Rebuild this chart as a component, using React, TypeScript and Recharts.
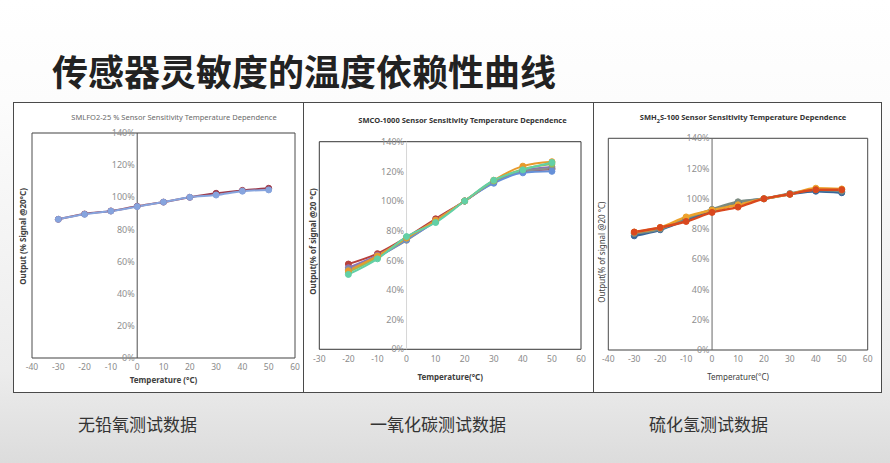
import React from "react"
import {
  CartesianGrid,
  Line,
  LineChart,
  ReferenceArea,
  ReferenceDot,
  ReferenceLine,
  XAxis,
  YAxis,
} from "recharts"

// temperatures (°C)
const o2Temps = [-30, -20, -10, 0, 10, 20, 30, 40, 50]
const coTemps = [-20, -10, 0, 10, 20, 30, 40, 50]
const h2sTemps = [-30, -20, -10, 0, 10, 20, 30, 40, 50]

// output, % of signal @20°C
const o2Red = [86.3, 89.6, 91.5, 94.4, 97, 100, 102.5, 104.3, 105.6]
const o2Blue = [86.3, 89.4, 91.4, 94.2, 97, 100, 101.4, 103.8, 104.6]

const coRed = [57.5, 64.5, 75.5, 88, 100, 113, 120, 121.5]
const coPurple = [55, 63.5, 74.5, 87, 100, 113, 120.5, 123]
const coGray = [54, 62.5, 73.5, 86.5, 100, 112.5, 120, 122]
const coBlue = [53.5, 62, 74, 86, 100, 112, 119, 120]
const coGreen = [52, 62, 75, 86.5, 100, 113.5, 121.5, 125]
const coOrange = [53, 63, 75, 87, 100, 114, 123.5, 126.5]
const coMint = [50.5, 61, 76, 85.5, 100, 114, 121, 126]

const h2sBlue = [75.5, 79.5, 86, 92, 97.5, 100, 103, 105, 104]
const h2sGray = [77, 80, 87, 93, 98, 100, 103.5, 106, 105]
const h2sOrange = [78, 81, 88, 92.5, 96, 100, 103, 107, 106.5]
const h2sRed = [78, 81, 85, 91, 94.5, 100, 103, 106, 106]

const yTicks = [0, 20, 40, 60, 80, 100, 120, 140]
const o2XTicks = [-40, -30, -20, -10, 0, 10, 20, 30, 40, 50, 60]
const coXTicks = [-30, -20, -10, 0, 10, 20, 30, 40, 50, 60]
const h2sXTicks = [-40, -30, -20, -10, 0, 10, 20, 30, 40, 50, 60]

const FONT = "'Noto Sans', 'Open Sans', sans-serif"

type Series = { name: string; values: number[]; color: string }

function rows(temps: number[], series: Series[]) {
  return temps.map((t, i) => {
    const row: Record<string, number> = { t }
    series.forEach((s) => (row[s.name] = s.values[i]))
    return row
  })
}

interface PanelProps {
  left: number
  width: number
  title: React.ReactNode
  titleX: number
  titleY: number
  titleStyle: React.CSSProperties
  temps: number[]
  series: Series[]
  xTicks: number[]
  margin: { top: number; right: number; left: number; bottom: number }
  xAxisHeight: number
  tickMargin: number
  yAxisWidth: number
  yLabelOffset: number
  yLabelShift: number
  xLabel: string
  yLabel: string
  labelWeight: number
  zeroLineColor: string
  boxColor: string
  dotR: number
  strokeW: number
}

function SensorPanel(p: PanelProps) {
  const data = rows(p.temps, p.series)
  const xMin = p.xTicks[0]
  const xMax = p.xTicks[p.xTicks.length - 1]

  // rotated y label, nudged along the axis like the original
  const yLabelContent = (props: any) => {
    const vb = props.viewBox || {}
    const x = (vb.x ?? 0) + p.yLabelOffset
    const y = (vb.y ?? 0) + (vb.height ?? 0) / 2 - p.yLabelShift
    return (
      <text
        x={x}
        y={y}
        transform={`rotate(-90 ${x} ${y})`}
        textAnchor="middle"
        dominantBaseline="central"
        fill="#404040"
        fontSize={8}
        fontWeight={p.labelWeight}
        fontFamily={FONT}
      >
        {p.yLabel}
      </text>
    )
  }

  return (
    <div
      style={{
        position: "absolute",
        left: p.left,
        top: 0,
        width: p.width,
        height: 289,
        background: "#fff",
      }}
    >
      <div
        style={{
          position: "absolute",
          left: p.titleX - 150,
          top: p.titleY - 7,
          width: 300,
          height: 14,
          lineHeight: "14px",
          textAlign: "center",
          fontFamily: FONT,
          whiteSpace: "nowrap",
          ...p.titleStyle,
        }}
      >
        {p.title}
      </div>
      <LineChart width={p.width} height={289} data={data} margin={p.margin}>
        <CartesianGrid vertical={false} stroke="#e3e3e3" strokeWidth={0.8} />
        <XAxis
          dataKey="t"
          type="number"
          domain={[xMin, xMax]}
          ticks={p.xTicks}
          interval={0}
          height={p.xAxisHeight}
          axisLine={false}
          tickLine={false}
          tickSize={6}
          tickMargin={p.tickMargin}
          tick={{ fill: "#8a8a8a", fontSize: 8.5, fontFamily: FONT }}
          label={{
            value: p.xLabel,
            position: "insideBottom",
            offset: 5,
            fill: "#404040",
            fontSize: 8,
            fontWeight: p.labelWeight,
            fontFamily: FONT,
          }}
        />
        <YAxis
          type="number"
          domain={[0, 140]}
          ticks={yTicks}
          width={p.yAxisWidth}
          tick={false}
          axisLine={false}
          tickLine={false}
          label={{ content: yLabelContent }}
        />
        <ReferenceArea
          x1={xMin}
          x2={xMax}
          y1={0}
          y2={140}
          fill="none"
          stroke={p.boxColor}
          strokeWidth={1}
        />
        <ReferenceLine x={0} stroke={p.zeroLineColor} strokeWidth={1} />
        {yTicks.map((v) => (
          <ReferenceDot
            key={v}
            x={0}
            y={v}
            r={2}
            fill="none"
            stroke="none"
            label={{
              value: `${v}%`,
              position: "left",
              offset: 0.5,
              fill: "#8f8f8f",
              fontSize: 9,
              fontFamily: FONT,
            }}
          />
        ))}
        {p.series.map((s) => (
          <Line
            key={s.name}
            dataKey={s.name}
            type="monotone"
            stroke={s.color}
            strokeWidth={p.strokeW}
            dot={{ r: p.dotR, fill: s.color, stroke: s.color, strokeWidth: 1 }}
            isAnimationActive={false}
          />
        ))}
      </LineChart>
    </div>
  )
}

export default function App() {
  return (
    <div
      style={{
        position: "fixed",
        left: 0,
        top: 0,
        width: 890,
        height: 463,
        overflow: "hidden",
        background:
          "linear-gradient(to bottom, #ffffff 0%, #fcfcfc 22%, #ececec 80%, #dcdcdc 100%)",
      }}
    >
      <div
        style={{
          position: "absolute",
          left: 52,
          top: 46,
          fontFamily: "'Noto Sans CJK SC', sans-serif",
          fontWeight: 700,
          fontSize: 36,
          lineHeight: "48px",
          color: "#222",
        }}
      >
        传感器灵敏度的温度依赖性曲线
      </div>

      <div
        style={{
          position: "absolute",
          left: 14,
          top: 103,
          width: 867,
          height: 289,
          outline: "1px solid #4a4a4a",
        }}
      >
        <SensorPanel
          left={0}
          width={289}
          title="SMLFO2-25 % Sensor Sensitivity Temperature Dependence"
          titleX={160}
          titleY={14}
          titleStyle={{ fontSize: 7.5, color: "#6a6a6a" }}
          temps={o2Temps}
          series={[
            { name: "a", values: o2Red, color: "#9c3b4c" },
            { name: "b", values: o2Blue, color: "#86a4de" },
          ]}
          xTicks={o2XTicks}
          margin={{ top: 30, right: 8, left: 0, bottom: 4 }}
          xAxisHeight={30}
          tickMargin={0}
          yAxisWidth={18}
          yLabelOffset={8}
          yLabelShift={9}
          xLabel="Temperature (°C)"
          yLabel="Output (% Signal @20°C)"
          labelWeight={700}
          zeroLineColor="#4d4d4d"
          boxColor="#4d4d4d"
          dotR={3}
          strokeW={2}
        />
        <SensorPanel
          left={289}
          width={290}
          title="SMCO-1000 Sensor Sensitivity Temperature Dependence"
          titleX={159.5}
          titleY={17}
          titleStyle={{ fontSize: 7.5, color: "#333", fontWeight: 700 }}
          temps={coTemps}
          series={[
            { name: "red", values: coRed, color: "#b8403a" },
            { name: "purple", values: coPurple, color: "#8a72b8" },
            { name: "gray", values: coGray, color: "#8d8d8d" },
            { name: "blue", values: coBlue, color: "#6590d8" },
            { name: "green", values: coGreen, color: "#93bf5c" },
            { name: "orange", values: coOrange, color: "#e89a2c" },
            { name: "mint", values: coMint, color: "#62d0a6" },
          ]}
          xTicks={coXTicks}
          margin={{ top: 38.7, right: 12, left: 0, bottom: 6.7 }}
          xAxisHeight={36}
          tickMargin={1}
          yAxisWidth={16.3}
          yLabelOffset={9}
          yLabelShift={4}
          xLabel="Temperature(°C)"
          yLabel="Output(% of signal @20 °C)"
          labelWeight={700}
          zeroLineColor="#d6d6d6"
          boxColor="#3a3a3a"
          dotR={3}
          strokeW={2}
        />
        <SensorPanel
          left={579}
          width={288}
          title={
            <span>
              SMH<sub style={{ fontSize: 5.5 }}>2</sub>S-100 Sensor Sensitivity Temperature Dependence
            </span>
          }
          titleX={150}
          titleY={14}
          titleStyle={{ fontSize: 7.5, color: "#333", fontWeight: 700 }}
          temps={h2sTemps}
          series={[
            { name: "blue", values: h2sBlue, color: "#36659a" },
            { name: "gray", values: h2sGray, color: "#7c8b80" },
            { name: "orange", values: h2sOrange, color: "#eda22c" },
            { name: "red", values: h2sRed, color: "#d9481e" },
          ]}
          xTicks={h2sXTicks}
          margin={{ top: 35.3, right: 13.3, left: 0, bottom: 7 }}
          xAxisHeight={35}
          tickMargin={0}
          yAxisWidth={15.3}
          yLabelOffset={8.7}
          yLabelShift={-8}
          xLabel="Temperature(°C)"
          yLabel="Output(% of signal @20 °C)"
          labelWeight={400}
          zeroLineColor="#666"
          boxColor="#4a4a4a"
          dotR={3}
          strokeW={2.5}
        />
        <div style={{ position: "absolute", left: 289, top: 0, width: 1, height: 289, background: "#4a4a4a" }} />
        <div style={{ position: "absolute", left: 579, top: 0, width: 1, height: 289, background: "#4a4a4a" }} />
      </div>

      {[
        { text: "无铅氧测试数据", left: 78 },
        { text: "一氧化碳测试数据", left: 370 },
        { text: "硫化氢测试数据", left: 649 },
      ].map((c) => (
        <div
          key={c.text}
          style={{
            position: "absolute",
            left: c.left,
            top: 414,
            fontFamily: "'Noto Sans CJK SC', sans-serif",
            fontWeight: 400,
            fontSize: 17,
            lineHeight: "20px",
            color: "#333",
          }}
        >
          {c.text}
        </div>
      ))}
    </div>
  )
}
